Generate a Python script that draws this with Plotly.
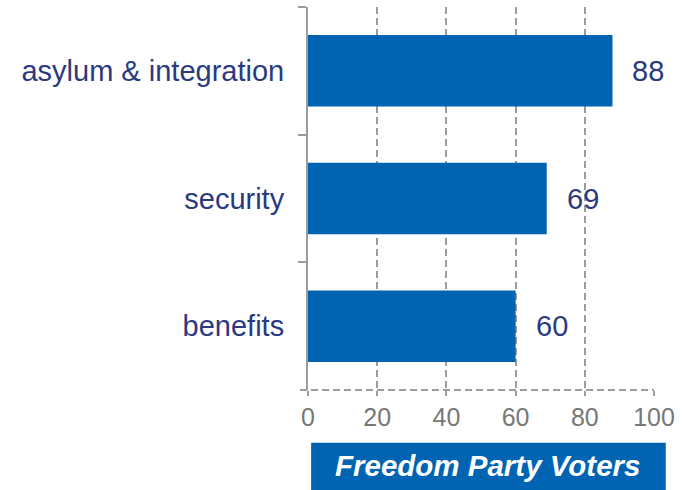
import plotly.graph_objects as go

categories = ["asylum & integration", "security", "benefits"]
values = [88, 69, 60]
x_ticks = [0, 20, 40, 60, 80, 100]
title_text = "Freedom Party Voters"

BAR = "#0064B2"
NAVY = "#2B3A7E"
GRAY = "#9C9C9C"
FONT = "Liberation Sans, Arial, sans-serif"
DASH = "7px,4px"

fig = go.Figure()
fig.add_trace(go.Bar(
    y=categories, x=values, orientation="h",
    marker=dict(color=BAR, line=dict(width=0)),
    width=0.56, hoverinfo="skip",
))

for c, v in zip(categories, values):
    fig.add_annotation(x=v, y=c, text=str(v), showarrow=False,
                       xanchor="left", xshift=18,
                       font=dict(family=FONT, size=29, color=NAVY))

# dashed baseline
fig.add_shape(type="line", xref="paper", yref="paper",
              x0=-0.023, x1=1.0, y0=0, y1=0,
              line=dict(color=GRAY, width=2, dash=DASH))

# title box
fig.add_shape(type="rect", xref="paper", yref="paper",
              x0=0.009, x1=1.034, y0=-0.138, y1=-0.27,
              fillcolor=BAR, line=dict(width=0), layer="above")
fig.add_annotation(xref="paper", yref="paper", x=0.52, y=-0.198,
                   text="<b><i>" + title_text + "</i></b>", showarrow=False,
                   xanchor="center", yanchor="middle",
                   font=dict(family=FONT, size=29.5, color="white"))

fig.update_layout(
    width=682, height=490,
    margin=dict(l=308, r=25, t=7, b=100),
    plot_bgcolor="white", paper_bgcolor="white",
    showlegend=False,
    font=dict(family=FONT),
    xaxis=dict(range=[0, 100], tickvals=x_ticks, showgrid=True,
               gridcolor=GRAY, gridwidth=2, griddash=DASH,
               zeroline=False, showline=False,
               ticks="outside", ticklen=5, tickcolor=GRAY, tickwidth=2,
               tickfont=dict(family=FONT, size=25, color="#777777"),
               fixedrange=True),
    yaxis=dict(range=[2.5, -0.5], type="category",
               showline=True, linecolor=GRAY, linewidth=2,
               ticks="outside", tickson="boundaries", ticklen=8,
               tickcolor=GRAY, tickwidth=2, showgrid=False, zeroline=False,
               ticklabelstandoff=16,
               tickfont=dict(family=FONT, size=29, color=NAVY),
               fixedrange=True),
)

fig.write_html("out.html", config={"displayModeBar": False},
               post_script="document.body.style.margin='0';document.body.style.overflow='hidden';")
